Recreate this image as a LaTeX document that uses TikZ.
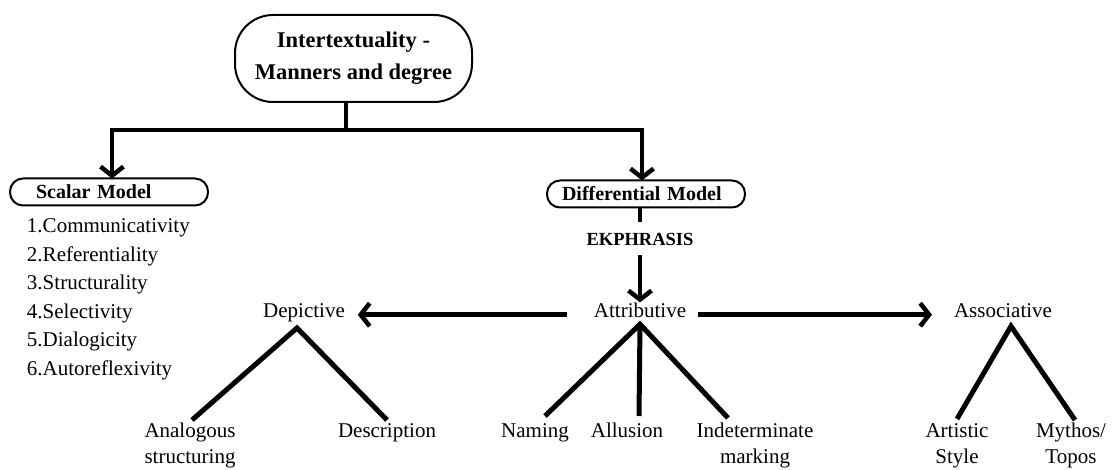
\documentclass[tikz,border=0pt]{standalone}
\usepackage{fontspec}
\setmainfont{Liberation Serif}
\usetikzlibrary{arrows.meta}
\begin{document}
\begin{tikzpicture}[x=1pt,y=-1pt,
  every node/.style={inner sep=0pt, outer sep=0pt},
  lbl/.style={font=\fontsize{21}{26}\selectfont},
  leaf/.style={font=\fontsize{21}{26}\selectfont, align=center, anchor=base},
  modelbox/.style={draw, line width=2pt, rounded corners=13pt, minimum height=27pt,
    font=\bfseries\fontsize{20}{24}\selectfont, align=left, inner ysep=0pt},
  link/.style={line width=4.5pt},
  arr/.style={line width=4.5pt, -{Straight Barb[length=9pt,width=23pt]}},
  leg/.style={line width=5pt},
]
\useasboundingbox (0,0) rectangle (1113,470);

% title and the two models
\node[draw, line width=2pt, rounded corners=38pt, minimum width=237pt, minimum height=87pt,
      align=center, font=\bfseries\fontsize{22.5}{32}\selectfont] (top) at (353.5,58.5)
      {Intertextuality -\\Manners and degree};
\node[modelbox, text width=146pt, inner xsep=26pt] (scalar) at (109,192) {Scalar Model};
\node[modelbox, text width=168pt, inner xsep=15pt] (diff) at (646,194) {Differential Model};

\coordinate (bar) at (346,130);
\draw[link] (top.south -| bar) -- (bar);
\draw[arr] (bar) -| ([xshift=3pt]scalar.north);
\draw[arr] (bar) -| ([xshift=-4pt]diff.north);

% scalar model list
\node[anchor=north west, align=left, font=\fontsize{21}{28.5}\selectfont] (list) at (27,219)
  {1.Communicativity\\2.Referentiality\\3.Structurality\\4.Selectivity\\5.Dialogicity\\6.Autoreflexivity};

% differential model
\node[anchor=base, font=\bfseries\fontsize{18.5}{22}\selectfont] (ek) at (640,246) {EKPHRASIS};
\draw[link] (diff.south -| ek.north) -- ([yshift=12pt]ek.north);

\node[lbl, anchor=base] (attr) at (640,317) {Attributive};
\node[lbl, anchor=base] (dep) at (304,317) {Depictive};
\node[lbl, anchor=base] (assoc) at (1003,317) {Associative};

\draw[arr] ([yshift=-9pt]ek.south) -- (attr.north);
\draw[arr] ([xshift=-27pt]attr.mid west) -- ([xshift=13pt]dep.mid east);
\draw[arr] ([xshift=12pt]attr.mid east) -- ([xshift=-22pt]assoc.mid west);

% leaves: one-line labels sit on the first baseline, two-line labels end on the second
\node[leaf] (analog) at (190,463) {Analogous\\structuring};
\node[leaf] (desc) at (387,437) {Description};
\node[leaf] (naming) at (535,437) {Naming};
\node[leaf] (allusion) at (627,437) {Allusion};
\node[leaf] (indet) at (755,463) {Indeterminate\\marking};
\node[leaf] (artistic) at (957,463) {Artistic\\Style};
\node[leaf] (mythos) at (1071,463) {Mythos/\\Topos};

% branch ends stop just above the leaf labels
\draw[leg] ([xshift=2pt]analog.base |- 0,420) -- ([xshift=-7pt,yshift=-6.5pt]dep.south)
  -- (desc.base |- 0,420);
\draw[leg] ([xshift=10pt]naming.base |- 0,416) -- ([yshift=-7pt]attr.south)
  -- ([xshift=-27pt]indet.base |- 0,418);
\draw[leg] ([yshift=-7pt]attr.south) -- ([xshift=12pt]allusion.base |- 0,416);
\draw[leg] (artistic.base |- 0,419) -- ([xshift=8pt,yshift=-9pt]assoc.south)
  -- ([xshift=4pt]mythos.base |- 0,420);
\end{tikzpicture}
\end{document}
